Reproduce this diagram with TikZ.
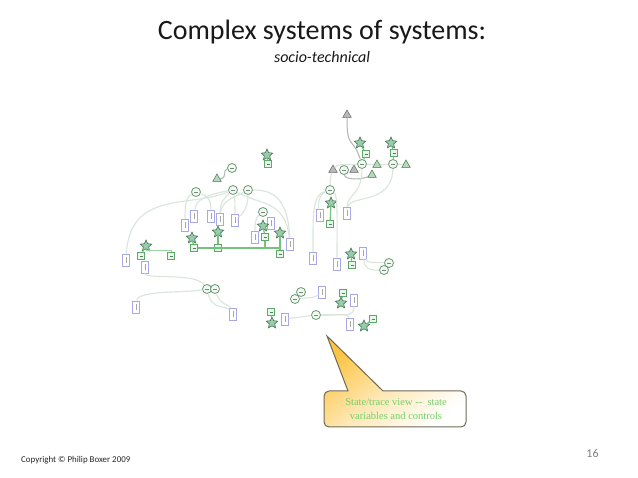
\documentclass[tikz,border=0pt]{standalone}
\usepackage{fontspec}
\setmainfont{Carlito}
\newfontfamily\serifcall{Liberation Serif}
\usetikzlibrary{shapes.geometric}
\definecolor{wirefaint}{HTML}{DAE5DC}
\definecolor{wiregrey}{HTML}{AEB6B0}
\definecolor{busgreen}{HTML}{74C27C}
\definecolor{boxblue}{HTML}{A8A8E6}
\definecolor{sqgreen}{HTML}{5DA868}
\definecolor{stargreen}{HTML}{6DB58C}
\definecolor{calltext}{HTML}{74D06A}
\definecolor{callgold}{HTML}{FCC444}
\definecolor{callmid}{HTML}{FEE7B4}
\definecolor{callline}{HTML}{6E6A55}
\tikzset{
  x=1pt,y=-1pt,
  bluebox/.style={draw=boxblue,fill=white,line width=.8pt,rectangle,inner sep=0,minimum width=6.5pt,minimum height=12pt,
    path picture={\draw[gray!70,line width=.6pt] ([yshift=-3pt]path picture bounding box.center) -- ([yshift=3pt]path picture bounding box.center);}},
  greensq/.style={draw=sqgreen,fill=sqgreen!12,line width=.8pt,rectangle,inner sep=0,minimum size=6.5pt,
    path picture={\draw[sqgreen!80!black,line width=.5pt] ([xshift=-1.5pt]path picture bounding box.center) -- ([xshift=1.5pt]path picture bounding box.center);}},
  roundn/.style={draw=sqgreen!70!gray,fill=sqgreen!8,line width=.8pt,circle,inner sep=0,minimum size=9pt,
    path picture={\draw[gray,line width=.5pt] ([xshift=-2pt]path picture bounding box.center) -- ([xshift=2pt]path picture bounding box.center);}},
  starn/.style={star,star points=5,star point ratio=2.1,draw=sqgreen!70!black,fill=stargreen!70!white,line width=.6pt,inner sep=0,minimum size=12pt},
  trigreen/.style={regular polygon,regular polygon sides=3,draw=sqgreen!70!black,fill=sqgreen!45,line width=.5pt,inner sep=0,minimum size=10pt},
  trigrey/.style={regular polygon,regular polygon sides=3,draw=gray!80!black,fill=gray!55,line width=.5pt,inner sep=0,minimum size=10pt},
  wire/.style={draw=wirefaint,line width=1.1pt},
  wiredark/.style={draw=wiregrey,line width=1pt},
  bus/.style={draw=busgreen,line width=1.2pt},
  busthin/.style={draw=busgreen!70!white,line width=.7pt},
}
\begin{document}
\begin{tikzpicture}
\useasboundingbox (0,0) rectangle (638,478);
\fill[white] (0,0) rectangle (638,478);
\foreach \n/\x/\y in {b126/126/260,b145/145/267,b136/136/307,b233/233/314,b185/185/225,b194/194/216,b211/211/216,b220/220/219,b235/235/220,b255/255/237,b271/271/223,b290/290/244,b320/320/215,b347/347/213,b313/313/258,b337/337/264,b363/363/253,b322/322/292,b354/354/300,b285/285/319,b350/350/324}
  \node[bluebox] (\n) at (\x,\y) {};
\foreach \n/\x/\y in {q141/141/256,q171/171/256,q194/194/248,q218/218/248,q265/265/237,q280/280/254,q268/268/164,q366/366/154,q394/394/153,q330/330/224,q352/352/265,q343/343/293,q271/271/312,q373/373/319}
  \node[greensq] (\n) at (\x,\y) {};
\foreach \n/\x/\y in {c196/196/192,c233/233/190,c248/248/190,c263/263/212,c207/207/289,c215/215/289,c232/232/168,c362/362/164,c393/393/164,c344/344/170,c330/330/190,c389/389/263,c384/384/270,c301/301/292,c295/295/299,c316/316/315}
  \node[roundn] (\n) at (\x,\y) {};
\foreach \n/\x/\y in {s146/146/246,s192/192/238,s218/218/232,s263/263/226,s280/280/233,s267/267/155,s360/360/143,s391/391/143,s331/331/203,s351/351/254,s341/341/303,s272/272/323,s364/364/326}
  \node[starn] (\n) at (\x,\y) {};
\foreach \n/\x/\y in {t217/217/179,t377/377/165,t406/406/165,t372/372/175}
  \node[trigreen] (\n) at (\x,\y) {};
\foreach \n/\x/\y in {t347/347/115,t333/333/170,t354/354/170}
  \node[trigrey] (\n) at (\x,\y) {};
% left group wires
\draw[wire] (c233) .. controls (190,208) and (130,190) .. (b126);
\draw[wire] (c196) .. controls (186,197) and (185,205) .. (b185);
\draw[wire] (c196) .. controls (205,195) and (211,198) .. (b211);
\draw[wire] (c233) .. controls (205,195) and (196,200) .. (b194);
\draw[wire] (c233) .. controls (222,200) and (220,205) .. (b220);
\draw[wire] (c233) .. controls (235,200) and (235,205) .. (b235);
\draw[wire] (c248) .. controls (248,205) and (245,212) .. (b235);
\draw[wire] (c248) .. controls (235,197) and (222,200) .. (b220);
\draw[wire] (c248) .. controls (270,190) and (288,195) .. (b290);
\draw[wire] (c233) .. controls (260,205) and (285,200) .. (b290);
\draw[wire] (c263) .. controls (255,218) and (255,225) .. (b255);
\draw[wire] (b145) .. controls (145,280) and (195,272) .. (c207);
\draw[wire] (c207) .. controls (185,293) and (138,290) .. (b136);
\draw[wire] (c207) .. controls (212,310) and (225,305) .. (b233);
\draw[wire] (c215) .. controls (220,305) and (230,305) .. (b233);
\draw[wiredark] (t217) .. controls (228,178) and (222,170) .. (c232);
% right group wires
\draw[wiredark] (t347) .. controls (347,150) and (352,135) .. (c362);
\draw[wire] (t333) .. controls (338,163) and (350,165) .. (c362);
\draw[wire] (c362) -- (t377);
\draw[wire] (t377) -- (c393);
\draw[wire] (c393) -- (t406);
\draw[wiredark] (c344) .. controls (345,180) and (360,180) .. (t372);
\draw[wire] (c362) .. controls (362,195) and (347,195) .. (b347);
\draw[wire] (c393) .. controls (392,205) and (350,195) .. (b347);
\draw[wire] (t333) .. controls (331,175) and (330,180) .. (c330);
\draw[wire] (c330) .. controls (318,195) and (318,205) .. (b320);
\draw[wire] (c330) .. controls (312,195) and (313,215) .. (b313);
\draw[wire] (c330) .. controls (338,195) and (337,220) .. (b337);
\draw[wire] (b363) .. controls (368,264) and (375,262) .. (c389);
\draw[wire] (b363) .. controls (365,272) and (375,270) .. (c384);
\draw[wire] (c295) .. controls (305,298) and (315,298) .. (b322);
\draw[wire] (b285) -- (c316);
\draw[wire] (c316) .. controls (345,314) and (354,318) .. (b354);
\draw[wire] (c316) .. controls (330,316) and (348,312) .. (b350);
% green links
\draw[busthin] (s146) -- (q141);
\draw[busthin] (s146.center) ++(0,4) -| (q171);
\draw[bus] (s192) -- (q194);
\draw[bus] (s218) -- (q218);
\draw[bus] (s263) -- (q265);
\draw[bus] (s280) -- (q280);
\draw[bus] (q194) -- (q280 |- q194) -- (q280);
\draw[bus] (q265) -- (q265 |- q194);
\draw[bus] (s267) -- (q268);
\draw[bus] (s360) -- (q366);
\draw[bus] (q366) -- (c362);
\draw[bus] (s391) -- (q394);
\draw[bus] (q394) -- (c393);
\draw[bus] (s331) -- (q330);
\draw[bus] (s351) -- (q352);
\draw[bus] (s341) -- (q343);
\draw[bus] (s272) -- (q271);
\draw[bus] (s364) -- (q373);
% callout
\coordinate (tip) at (327,336);
\coordinate (ba) at (383,391);
\coordinate (bb) at (348,391);
\path[draw=callline,line width=1pt,top color=callgold,bottom color=white,middle color=callmid,shading angle=40]
  (tip) -- (ba) [rounded corners=5pt] -- (466,391) -- (466,427) -- (324,427) -- (324,391) [sharp corners] -- (bb) -- cycle;
\node[text=calltext,font=\serifcall\fontsize{10.5}{14.5}\selectfont,align=center,inner sep=0] (calltxt) at (396,409) {State/trace view --~~state\\variables and controls};
% texts
\node[font=\fontsize{28}{30}\selectfont,text=black!90,inner sep=0] (title) at (322,32) {Complex systems of systems:};
\node[font=\itshape\fontsize{16}{18}\selectfont,text=black!90,inner sep=0] (sub) at (322,57) {socio-technical};
\node[font=\fontsize{8.9}{10}\selectfont,text=black!85,inner sep=0,anchor=west] (copy) at (21,460) {Copyright © Philip Boxer 2009};
\node[font=\fontsize{12}{14}\selectfont,text=gray,inner sep=0] (pg) at (592.5,453) {16};
\end{tikzpicture}
\end{document}
